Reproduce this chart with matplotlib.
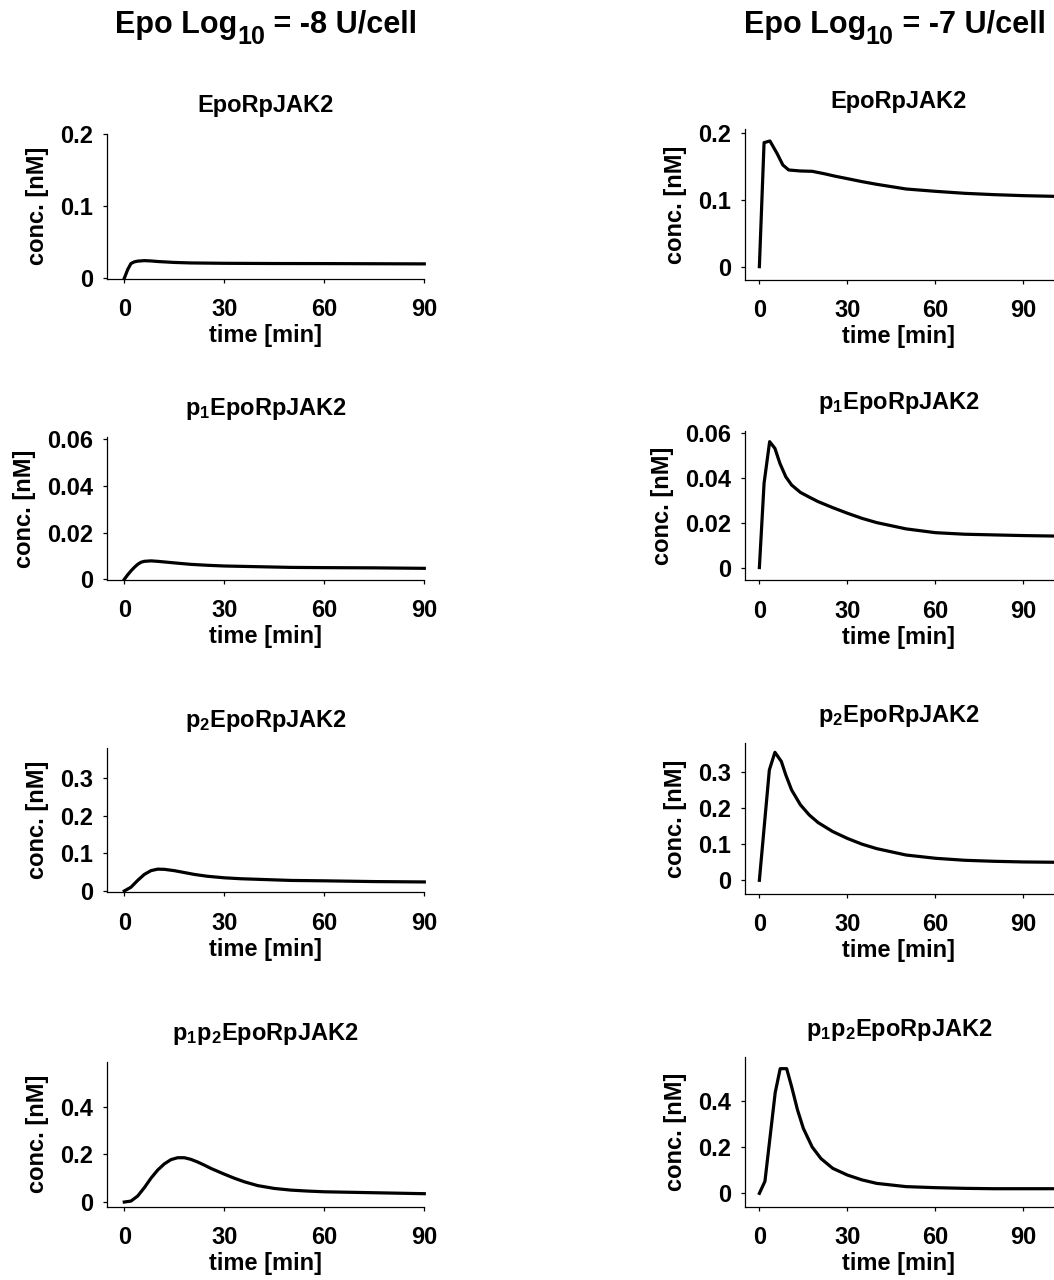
import matplotlib
matplotlib.use("Agg")
import matplotlib.pyplot as plt

plt.rcParams['font.family'] = ['Liberation Sans', 'DejaVu Sans']
plt.rcParams['font.weight'] = 'bold'
plt.rcParams['mathtext.fontset'] = 'custom'
plt.rcParams['mathtext.rm'] = 'Liberation Sans:bold'
plt.rcParams['mathtext.it'] = 'Liberation Sans:bold'
plt.rcParams['mathtext.bf'] = 'Liberation Sans:bold'

# ---------------- data ----------------
col_title_parts = [("Epo Log", "10", " = -8 U/cell"), ("Epo Log", "10", " = -7 U/cell")]
species = ["EpoRpJAK2", r"p$_1$EpoRpJAK2", r"p$_2$EpoRpJAK2", r"p$_1$p$_2$EpoRpJAK2"]

x_ticks = [0, 30, 60, 90]
y_ticks = [[0, 0.1, 0.2], [0, 0.02, 0.04, 0.06], [0, 0.1, 0.2, 0.3], [0, 0.2, 0.4]]
y_ticklabels = [["0", "0.1", "0.2"], ["0", "0.02", "0.04", "0.06"],
                ["0", "0.1", "0.2", "0.3"], ["0", "0.2", "0.4"]]

# Epo 1e-8 (left column)
t_L1 = [0, 1, 2, 3, 4, 6, 8, 10, 15, 20, 30, 45, 60, 75, 90]
c_L1 = [0, 0.012, 0.0205, 0.0228, 0.0238, 0.0245, 0.0241, 0.0233, 0.0220, 0.0213,
        0.0208, 0.0205, 0.0204, 0.0202, 0.0200]

t_L2 = [0, 1, 2, 3, 4, 5, 6, 8, 10, 13, 16, 20, 25, 30, 40, 50, 60, 75, 90]
c_L2 = [0, 0.0019, 0.0036, 0.0051, 0.0064, 0.0073, 0.0077, 0.0079, 0.0077, 0.0073, 0.0069,
        0.0064, 0.0060, 0.0057, 0.0054, 0.0051, 0.0050, 0.0049, 0.0047]

t_L3 = [0, 2, 4, 6, 8, 10, 12, 15, 18, 21, 25, 30, 35, 40, 50, 60, 75, 90]
c_L3 = [0, 0.010, 0.028, 0.044, 0.054, 0.058, 0.0575, 0.054, 0.049, 0.044, 0.039, 0.035,
        0.0325, 0.031, 0.028, 0.027, 0.025, 0.024]

t_L4 = [0, 2, 4, 6, 8, 10, 12, 14, 16, 18, 20, 22, 24, 26, 28, 30, 33, 36, 40, 45, 50,
        55, 60, 75, 90]
c_L4 = [0, 0.004, 0.025, 0.060, 0.100, 0.134, 0.160, 0.178, 0.186, 0.186, 0.179, 0.168,
        0.155, 0.141, 0.129, 0.117, 0.100, 0.085, 0.069, 0.057, 0.050, 0.046, 0.043,
        0.039, 0.035]

# Epo 1e-7 (right column)
t_R1 = [0, 1.6, 3.6, 6, 8, 10, 14, 18, 22, 26, 30, 35, 40, 50, 60, 70, 80, 90, 100]
c_R1 = [0, 0.186, 0.1885, 0.170, 0.1525, 0.145, 0.1435, 0.143, 0.1395, 0.1355, 0.132,
        0.1275, 0.1235, 0.1165, 0.113, 0.110, 0.108, 0.1065, 0.1055]

t_R2 = [0, 1.6, 3.5, 5.3, 7, 9, 11, 14, 17, 20, 25, 30, 35, 40, 50, 60, 70, 80, 90, 100]
c_R2 = [0, 0.0377, 0.0563, 0.0533, 0.0466, 0.0406, 0.0369, 0.0336, 0.0315, 0.0295,
        0.0268, 0.0243, 0.0220, 0.0201, 0.0173, 0.0156, 0.0149, 0.0146, 0.0143, 0.0141]

t_R3 = [0, 3.4, 5.3, 7.5, 9, 11, 14, 17, 20, 25, 30, 35, 40, 50, 60, 70, 80, 90, 100]
c_R3 = [0, 0.3056, 0.3546, 0.329, 0.292, 0.250, 0.209, 0.181, 0.160, 0.135, 0.116,
        0.100, 0.0877, 0.070, 0.061, 0.0554, 0.0526, 0.0508, 0.050]

t_R4 = [0, 1.9, 5.4, 7.1, 9.3, 11, 13, 15, 18, 21, 25, 30, 35, 40, 50, 60, 70, 80, 90, 100]
c_R4 = [0, 0.052, 0.435, 0.538, 0.538, 0.460, 0.360, 0.280, 0.200, 0.150, 0.108, 0.079,
        0.058, 0.043, 0.029, 0.0245, 0.0216, 0.020, 0.020, 0.020]

left_series = [(t_L1, c_L1), (t_L2, c_L2), (t_L3, c_L3), (t_L4, c_L4)]
right_series = [(t_R1, c_R1), (t_R2, c_R2), (t_R3, c_R3), (t_R4, c_R4)]

# ---------------- layout ----------------
W, H = 1054, 1280
fig = plt.figure(figsize=(W / 100, H / 100), dpi=100)


def box(l, r, t, b):
    return [l / W, 1 - b / H, (r - l) / W, (b - t) / H]


cols = [
    dict(l=107.3, r=424.3, xlim=(-5.1, 90), series=left_series, head_x=265.8,
         rows=[(133.5, 279), (436.7, 580), (748.3, 892.3), (1061.7, 1206.7)],
         ylims=[(-0.001, 0.2011), (-0.0003, 0.0611), (-0.0035, 0.379), (-0.0196, 0.589)]),
    dict(l=745, r=1052.7, xlim=(-4.9, 100), series=right_series, head_x=894.5,
         rows=[(129.3, 280), (430.7, 580.3), (743.3, 894), (1057.3, 1206.7)],
         ylims=[(-0.02, 0.206), (-0.0057, 0.0612), (-0.038, 0.3795), (-0.0576, 0.587)]),
]

FS = 17
for ci, col in enumerate(cols):
    for ri in range(4):
        t, b = col['rows'][ri]
        ax = fig.add_axes(box(col['l'], col['r'], t, b))
        tt, cc = col['series'][ri]
        ax.plot(tt, cc, color='black', lw=2.3, solid_joinstyle='round', clip_on=False)
        ax.set_xlim(*col['xlim'])
        ax.set_ylim(*col['ylims'][ri])
        ax.set_xticks(x_ticks)
        ax.set_xticklabels([str(v) for v in x_ticks])
        ax.set_yticks(y_ticks[ri])
        ax.set_yticklabels(y_ticklabels[ri])
        for s in ['top', 'right']:
            ax.spines[s].set_visible(False)
        for s in ['left', 'bottom']:
            ax.spines[s].set_linewidth(0.9)
        ax.tick_params(axis='both', direction='out', length=3, width=0.9, labelsize=FS)
        ax.tick_params(axis='x', pad=11)
        ax.tick_params(axis='y', pad=7)
        ax.set_xlabel('time [min]', fontsize=FS, fontweight='bold', labelpad=2)
        ax.set_ylabel('conc. [nM]', fontsize=FS, fontweight='bold', labelpad=8)
        ax.set_title(species[ri], fontsize=FS, fontweight='bold', pad=15.5)

# column headers with a large subscript, composed from pieces
renderer = fig.canvas.get_renderer()
HEAD_FS, SUB_FS = 22, 18
base_y = 32.7      # baseline, px from top
drop = 11.0        # subscript baseline drop, px
for ci, col in enumerate(cols):
    a, s, c = col_title_parts[ci]
    t1 = fig.text(0, 1 - base_y / H, a, fontsize=HEAD_FS, va='baseline', ha='left')
    t2 = fig.text(0, 1 - (base_y + drop) / H, s, fontsize=SUB_FS, va='baseline', ha='left')
    t3 = fig.text(0, 1 - base_y / H, c, fontsize=HEAD_FS, va='baseline', ha='left')
    w1 = t1.get_window_extent(renderer).width
    w2 = t2.get_window_extent(renderer).width
    w3 = t3.get_window_extent(renderer).width
    x0 = col['head_x'] - (w1 + w2 + w3) / 2
    t1.set_x(x0 / W)
    t2.set_x((x0 + w1) / W)
    t3.set_x((x0 + w1 + w2) / W)

fig.savefig('out.png', dpi=100)
